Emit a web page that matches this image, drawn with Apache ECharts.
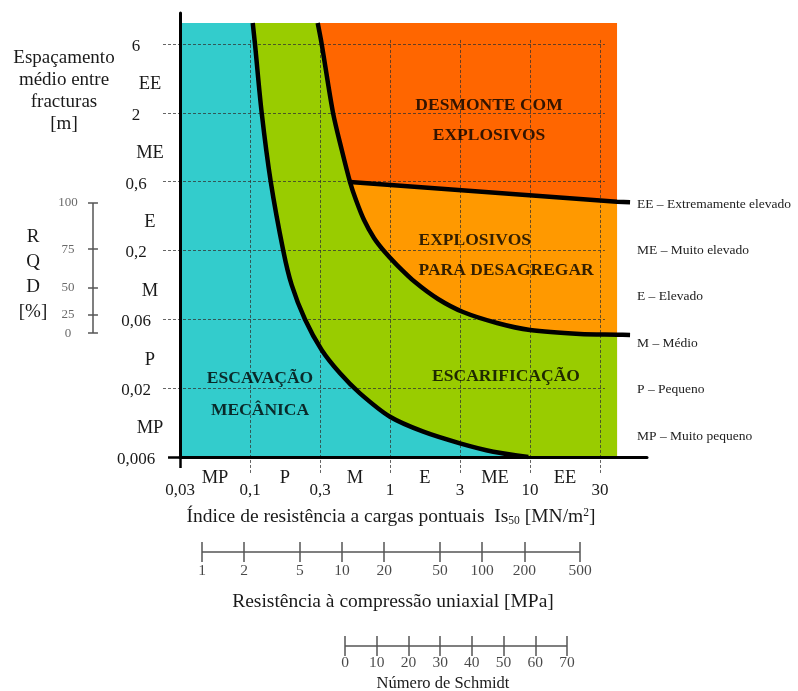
<!DOCTYPE html>
<html><head><meta charset="utf-8">
<script src="https://cdn.jsdelivr.net/npm/echarts@6/dist/echarts.min.js"></script>
<style>html,body{margin:0;padding:0;background:#fff}#c{width:798px;height:691px}</style>
</head><body><div id="c"></div>
<script>
// ---- tick labels (axes use one unit per labelled tick step) ----
const xTickLabels = ['0,03','0,1','0,3','1','3','10','30'];
const yTickLabels = ['0,006','0,02','0,06','0,2','0,6','2','6'];
const classX = ['MP','P','M','E','ME','EE'];
const classY = ['MP','P','M','E','ME','EE'];
const classLegend = ['EE – Extremamente elevado','ME – Muito elevado','E – Elevado','M – Médio','P – Pequeno','MP – Muito pequeno'];
// ---- boundary curves (x: Is50 step, y: spacing step) ----
const curveMech = [[1.039,6.305],[1.071,6.0],[1.167,5.0],[1.296,4.0],[1.476,2.993],[1.595,2.5],[1.786,1.997],[2.024,1.555],[2.286,1.216],[2.571,0.925],[3.0,0.585],[3.476,0.368],[4.0,0.199],[4.476,0.077],[4.976,0]];
const curveRip = [[1.967,6.305],[2.024,6.0],[2.186,5.0],[2.311,4.46],[2.429,3.995],[2.514,3.734],[2.629,3.443],[2.771,3.182],[2.914,2.993],[3.1,2.789],[3.357,2.542],[3.686,2.296],[4.043,2.107],[4.529,1.947],[5.0,1.845],[5.714,1.787],[6.243,1.777],[6.429,1.772]];
const lineBlast = [[2.429,3.995],[6.243,3.709],[6.429,3.7]];
const fillRight = 6.243, fillTop = 6.305;
// ---- auxiliary scales ----
const rqdTicks = [100,75,50,25,0];
const rqdOnSpacing = [3.69,3.02,2.455,2.063,1.80];
const ucsTicks = [1,2,5,10,20,50,100,200,500];
const schmidtTicks = [0,10,20,30,40,50,60,70];

const FONT = 'Liberation Serif';
const TXT = '#1a1a1a';

const regions = [
  {color:'#FF6600', pts:[[0,0],[0,fillTop],[fillRight,fillTop],[fillRight,0]]},
  {color:'#FF9900', pts:[...lineBlast.filter(p=>p[0]<=fillRight),[fillRight,0],[lineBlast[0][0],0]]},
  {color:'#99CC00', pts:[[0,0],[0,fillTop],...curveRip.filter(p=>p[0]<=fillRight),[fillRight,0]]},
  {color:'#33CCCC', pts:[[0,0],[0,fillTop],...curveMech]}
];

const gridLines = [];
for (let i=1;i<xTickLabels.length;i++) gridLines.push({coords:[[i,-0.232],[i,6.087]]});
for (let j=1;j<yTickLabels.length;j++) gridLines.push({coords:[[-0.243,j],[6.07,j]]});

const rqdX = -1.243;
const rqdLines = [{coords:[[rqdX,rqdOnSpacing[0]],[rqdX,rqdOnSpacing[rqdOnSpacing.length-1]]]}]
  .concat(rqdOnSpacing.map(v=>({coords:[[rqdX-0.071,v],[rqdX+0.071,v]]})));

const ucsLines = [{coords:[[ucsTicks[0],0],[ucsTicks[ucsTicks.length-1],0]]}]
  .concat(ucsTicks.map(t=>({coords:[[t,-1],[t,1]]})));
const schLines = [{coords:[[schmidtTicks[0],0],[schmidtTicks[schmidtTicks.length-1],0]]}]
  .concat(schmidtTicks.map(t=>({coords:[[t,-1],[t,1]]})));

const lblBase = {fontFamily:FONT, color:TXT};
const boldLbl = {fontFamily:FONT, color:'#000', fontWeight:'bold', fontSize:17.5};

const chart = echarts.init(document.getElementById('c'));
chart.setOption({
  animation:false,
  backgroundColor:'#fff',
  grid:[
    {left:180, top:13, width:467, height:444},
    {left:202, top:542, width:378, height:20},
    {left:345, top:636, width:222, height:20}
  ],
  xAxis:[
    {gridIndex:0, type:'value', min:0, max:6.671, interval:1, position:'bottom', z:10,
     axisLine:{lineStyle:{color:'#000', width:3}}, axisTick:{show:false}, splitLine:{show:false},
     axisLabel:{...lblBase, fontSize:17, margin:25, showMaxLabel:false,
       formatter:v=>Number.isInteger(v)&&xTickLabels[v]!==undefined?xTickLabels[v]:''}},
    {gridIndex:0, type:'value', min:0, max:6.671, interval:0.5, position:'bottom',
     axisLine:{show:false}, axisTick:{show:false}, splitLine:{show:false},
     axisLabel:{...lblBase, fontSize:18.5, margin:12, showMaxLabel:false,
       formatter:v=>(Math.abs(v%1-0.5)<1e-6 && classX[Math.floor(v)])?classX[Math.floor(v)]:''}},
    {gridIndex:1, type:'log', min:1, max:500, show:false},
    {gridIndex:2, type:'value', min:0, max:70, show:false}
  ],
  yAxis:[
    {gridIndex:0, type:'value', min:0, max:6.451, interval:1, z:10,
     axisLine:{show:true, lineStyle:{color:'#000', width:3}}, axisTick:{show:false}, splitLine:{show:false},
     axisLabel:{...lblBase, fontSize:17, margin:44, align:'center', showMaxLabel:false,
       rich:{t:{fontFamily:FONT, fontSize:17, color:TXT, padding:[5,0,0,0]}},
       formatter:v=>Number.isInteger(v)&&yTickLabels[v]!==undefined?'{t|'+yTickLabels[v]+'}':''}},
    {gridIndex:0, type:'value', min:0, max:6.451, interval:0.5, position:'left',
     axisLine:{show:false}, axisTick:{show:false}, splitLine:{show:false},
     axisLabel:{...lblBase, fontSize:18.5, margin:30, align:'center', showMaxLabel:false,
       rich:{c:{fontFamily:FONT, fontSize:18.5, color:TXT, padding:[12,0,0,0]}},
       formatter:v=>(Math.abs(v%1-0.5)<1e-6 && classY[Math.floor(v)])?'{c|'+classY[Math.floor(v)]+'}':''}},
    {gridIndex:1, type:'value', min:-1, max:1, show:false},
    {gridIndex:2, type:'value', min:-1, max:1, show:false}
  ],
  graphic:[
    {type:'text', x:64, y:91, silent:true, style:{text:'Espaçamento\nmédio entre\nfracturas\n[m]', font:'19px '+FONT, fill:TXT, align:'center', verticalAlign:'middle', lineHeight:22}},
    {type:'text', x:33, y:275, silent:true, style:{text:'R\nQ\nD\n[%]', font:'19px '+FONT, fill:TXT, align:'center', verticalAlign:'middle', lineHeight:25}},
    {type:'text', x:391, y:517, silent:true, style:{
      text:'{a|Índice de resistência a cargas pontuais  Is}{s|50}{a| [MN/m}{p|2}{a|]}',
      align:'center', verticalAlign:'middle',
      rich:{a:{fontFamily:FONT, fontSize:19.5, fill:TXT, lineHeight:22}, s:{fontFamily:FONT, fontSize:11.5, fill:TXT, padding:[8,0,0,0], lineHeight:22}, p:{fontFamily:FONT, fontSize:11.5, fill:TXT, padding:[0,0,8,0], lineHeight:22}}}},
    {type:'text', x:393, y:602, silent:true, style:{text:'Resistência à compressão uniaxial [MPa]', font:'19.5px '+FONT, fill:TXT, align:'center', verticalAlign:'middle'}},
    {type:'text', x:443, y:684, silent:true, style:{text:'Número de Schmidt', font:'16.5px '+FONT, fill:TXT, align:'center', verticalAlign:'middle'}},
    {type:'group', x:637, y:204, silent:true, children: classLegend.map((t,k)=>({type:'text', x:0, y:k*46.4, style:{text:t, font:'13.5px '+FONT, fill:'#222', align:'left', verticalAlign:'middle'}}))}
  ],
  series:[
    {type:'custom', xAxisIndex:0, yAxisIndex:0, z:1, silent:true,
     data: regions.map(()=>[0,0]),
     renderItem:(params, api)=>{
       const r = regions[params.dataIndex];
       return {type:'polygon', shape:{points:r.pts.map(p=>api.coord(p))}, style:{fill:r.color}};
     }},
    {type:'lines', coordinateSystem:'cartesian2d', xAxisIndex:0, yAxisIndex:0, z:2, silent:true, clip:false,
     data:gridLines, lineStyle:{color:'rgba(50,50,50,0.75)', width:1, type:[3,2], opacity:1}},
    {type:'lines', coordinateSystem:'cartesian2d', xAxisIndex:0, yAxisIndex:0, z:11, silent:true, clip:false,
     data:[{coords:[[-0.171,0],[0,0]]},{coords:[[0,0],[0,-0.16]]}], lineStyle:{color:'#000', width:2.5, opacity:1}},
    {type:'line', name:'mech', xAxisIndex:0, yAxisIndex:0, z:5, data:curveMech, symbol:'none', smooth:0.3, silent:true,
     lineStyle:{color:'#000', width:4.5}},
    {type:'line', name:'rip', xAxisIndex:0, yAxisIndex:0, z:5, data:curveRip, symbol:'none', smooth:0.3, silent:true,
     lineStyle:{color:'#000', width:4.5}},
    {type:'line', name:'blast', xAxisIndex:0, yAxisIndex:0, z:5, data:lineBlast, symbol:'none', silent:true,
     lineStyle:{color:'#000', width:4.5}},
    {type:'scatter', xAxisIndex:0, yAxisIndex:0, z:6, silent:true, symbolSize:1, itemStyle:{color:'rgba(0,0,0,0)'},
     label:{show:true, position:'inside', ...boldLbl},
     data:[
       {value:[4.414,4.896], label:{formatter:'DESMONTE COM\nEXPLOSIVOS', lineHeight:30, align:'center'}},
       {value:[3.4,2.935], label:{formatter:'EXPLOSIVOS\nPARA DESAGREGAR', lineHeight:30, align:'left', position:'right', distance:0}},
       {value:[4.657,1.17], label:{formatter:'ESCARIFICAÇÃO'}},
       {value:[1.143,0.91], label:{formatter:'ESCAVAÇÃO\nMECÂNICA', lineHeight:32, align:'center'}}
     ]},
    {type:'lines', coordinateSystem:'cartesian2d', xAxisIndex:0, yAxisIndex:0, z:6, silent:true, clip:false,
     data:rqdLines, lineStyle:{color:'#555', width:1.5, opacity:1}},
    {type:'scatter', xAxisIndex:0, yAxisIndex:0, z:6, silent:true, clip:false, symbolSize:1, itemStyle:{color:'rgba(0,0,0,0)'},
     label:{show:true, position:'inside', fontFamily:FONT, fontSize:13, color:'#444', formatter:p=>String(rqdTicks[p.dataIndex])},
     data:rqdOnSpacing.map(v=>[-1.6,v])},
    {type:'lines', coordinateSystem:'cartesian2d', xAxisIndex:2, yAxisIndex:2, z:6, silent:true, clip:false,
     data:ucsLines, lineStyle:{color:'#555', width:1.5, opacity:1}},
    {type:'scatter', xAxisIndex:2, yAxisIndex:2, z:6, silent:true, clip:false, symbolSize:1, itemStyle:{color:'rgba(0,0,0,0)'},
     label:{show:true, position:'inside', fontFamily:FONT, fontSize:15.5, color:TXT, formatter:p=>String(ucsTicks[p.dataIndex])},
     data:ucsTicks.map(t=>[t,-1.9])},
    {type:'lines', coordinateSystem:'cartesian2d', xAxisIndex:3, yAxisIndex:3, z:6, silent:true, clip:false,
     data:schLines, lineStyle:{color:'#555', width:1.5, opacity:1}},
    {type:'scatter', xAxisIndex:3, yAxisIndex:3, z:6, silent:true, clip:false, symbolSize:1, itemStyle:{color:'rgba(0,0,0,0)'},
     label:{show:true, position:'inside', fontFamily:FONT, fontSize:15.5, color:TXT, formatter:p=>String(schmidtTicks[p.dataIndex])},
     data:schmidtTicks.map(t=>[t,-1.7])}
  ]
});
</script></body></html>
